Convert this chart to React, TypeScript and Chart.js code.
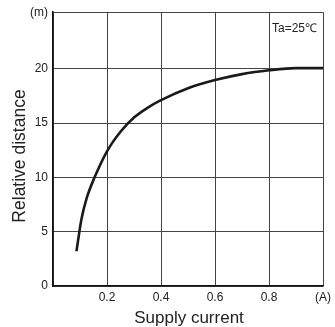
import React, { useEffect, useRef } from "react";
import { Chart, registerables } from "chart.js";

Chart.register(...registerables);

const currentA = [0.087, 0.105, 0.125, 0.154, 0.2, 0.25, 0.3, 0.35, 0.4, 0.5, 0.6, 0.7, 0.8, 0.9, 1.0];
const distanceM = [3.2, 6.1, 8.1, 10.0, 12.4, 14.2, 15.5, 16.4, 17.1, 18.2, 18.95, 19.5, 19.85, 20.05, 20.05];
const xTicks = [0, 0.2, 0.4, 0.6, 0.8, 1.0];
const xTickLabels = ["", "0.2", "0.4", "0.6", "0.8", "(A)"];
const yTicks = [0, 5, 10, 15, 20, 25.2];
const yTickLabels = ["0", "5", "10", "15", "20", "(m)"];
const noteText = "Ta=25℃";
const xTitle = "Supply current";
const yTitle = "Relative distance";

const FONT = "'Liberation Sans', Arial, Helvetica, sans-serif";

export default function App() {
  const ref = useRef<HTMLCanvasElement | null>(null);
  useEffect(() => {
    document.body.style.margin = "0";
    const canvas = ref.current!;
    const textPlugin = {
      id: "texts",
      afterDraw(chart: any) {
        const { ctx, chartArea } = chart;
        ctx.save();
        ctx.fillStyle = "#222";
        ctx.font = `12px ${FONT}`;
        ctx.textAlign = "right";
        ctx.textBaseline = "middle";
        ctx.fillText(noteText, chartArea.right - 6, chartArea.top + 16);

        ctx.font = `17px ${FONT}`;
        ctx.textAlign = "center";
        ctx.textBaseline = "alphabetic";
        ctx.fillText(xTitle, (chartArea.left + chartArea.right) / 2 + 1, 323);

        ctx.translate(25, 156);
        ctx.rotate(-Math.PI / 2);
        ctx.font = `17.5px ${FONT}`;
        ctx.fillText(yTitle, 0, 0);
        ctx.restore();
      },
    };
    const chart = new Chart(canvas, {
      type: "line",
      data: {
        datasets: [
          {
            data: currentA.map((x, i) => ({ x, y: distanceM[i] })),
            borderColor: "#1a1a1a",
            borderWidth: 2.6,
            pointRadius: 0,
            cubicInterpolationMode: "monotone",
            fill: false,
          },
        ],
      },
      options: {
        animation: false,
        responsive: false,
        maintainAspectRatio: false,
        layout: { padding: { left: 0, right: 7, top: 10, bottom: 0 } },
        plugins: { legend: { display: false }, tooltip: { enabled: false } },
        scales: {
          x: {
            type: "linear",
            min: 0,
            max: 1,
            afterBuildTicks: (s: any) => {
              s.ticks = xTicks.map((v) => ({ value: v }));
            },
            afterFit: (s: any) => {
              s.height = 41;
            },
            ticks: {
              callback: (_v: any, i: number) => xTickLabels[i],
              font: { family: FONT, size: 12 },
              color: "#222",
              padding: 4,
              maxRotation: 0,
              autoSkip: false,
            },
            grid: { color: "#444", lineWidth: 1, drawTicks: false },
            border: { color: "#111", width: 1.5 },
          },
          y: {
            type: "linear",
            min: 0,
            max: 25.2,
            afterBuildTicks: (s: any) => {
              s.ticks = yTicks.map((v) => ({ value: v }));
            },
            afterFit: (s: any) => {
              s.width = 53;
            },
            ticks: {
              callback: (_v: any, i: number) => yTickLabels[i],
              font: { family: FONT, size: 12 },
              color: "#222",
              padding: 5,
              autoSkip: false,
            },
            grid: { color: "#444", lineWidth: 1, drawTicks: false },
            border: { color: "#111", width: 1.5 },
          },
        },
      },
      plugins: [textPlugin],
    });
    return () => chart.destroy();
  }, []);
  return (
    <div style={{ width: 335, height: 327 }}>
      <canvas ref={ref} width={335} height={327} style={{ display: "block", width: 335, height: 327 }} />
    </div>
  );
}
